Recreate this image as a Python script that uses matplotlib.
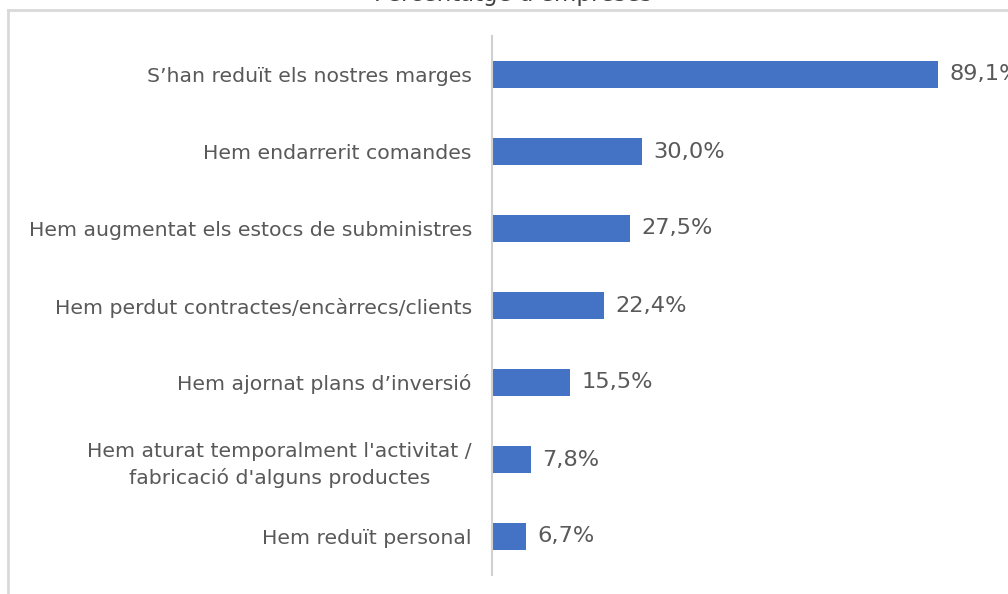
import matplotlib
matplotlib.use('Agg')
import matplotlib.pyplot as plt
from matplotlib.lines import Line2D

categories = [
	"S\u2019han redu\u00eft els nostres marges",
	"Hem endarrerit comandes",
	"Hem augmentat els estocs de subministres",
	"Hem perdut contractes/enc\u00e0rrecs/clients",
	"Hem ajornat plans d\u2019inversi\u00f3",
	"Hem aturat temporalment l'activitat /\nfabricaci\u00f3 d'alguns productes",
	"Hem redu\u00eft personal",
]
values = [89.1, 30.0, 27.5, 22.4, 15.5, 7.8, 6.7]
labels = ["89,1%", "30,0%", "27,5%", "22,4%", "15,5%", "7,8%", "6,7%"]
title = "Percentatge d'empreses"

W, H = 1008, 594
plt.rcParams['font.family'] = ['DejaVu Sans']
txt = '#595959'
fs = 14.7

fig = plt.figure(figsize=(W / 100, H / 100), dpi=100)
ax = fig.add_axes([492 / W, 19 / H, (W - 492) / W, 539 / H])

ypos = list(range(len(values)))
ax.barh(ypos, values, height=0.34, color='#4472C4')
for y, v, lab in zip(ypos, values, labels):
	ax.text(v + 2.3, y, lab, va='center', ha='left', fontsize=16.2, color=txt, clip_on=False)

ax.set_ylim(len(values) - 0.5, -0.5)
ax.set_xlim(0, (W - 492) / 5.006)
ax.set_yticks(ypos)
ax.set_yticklabels(categories, fontsize=fs, color=txt, ha='right',
	multialignment='center', linespacing=1.45)
ax.tick_params(axis='y', length=0, pad=14.5)
ax.set_xticks([])
for s in ['top', 'right', 'bottom']:
	ax.spines[s].set_visible(False)
ax.spines['left'].set_color('#d0d0d0')
ax.spines['left'].set_linewidth(1.5)

# border of the original chart area
fig.add_artist(Line2D([8 / W, 1], [1 - 10 / H, 1 - 10 / H], color='#d9d9d9', lw=2))
fig.add_artist(Line2D([8 / W, 8 / W], [0, 1 - 10 / H], color='#d9d9d9', lw=2))

fig.text(513 / W, 1 - 1.5 / H, title, ha='center', va='baseline', fontsize=16.5, color='#404040')

fig.savefig('out.png', dpi=100)
